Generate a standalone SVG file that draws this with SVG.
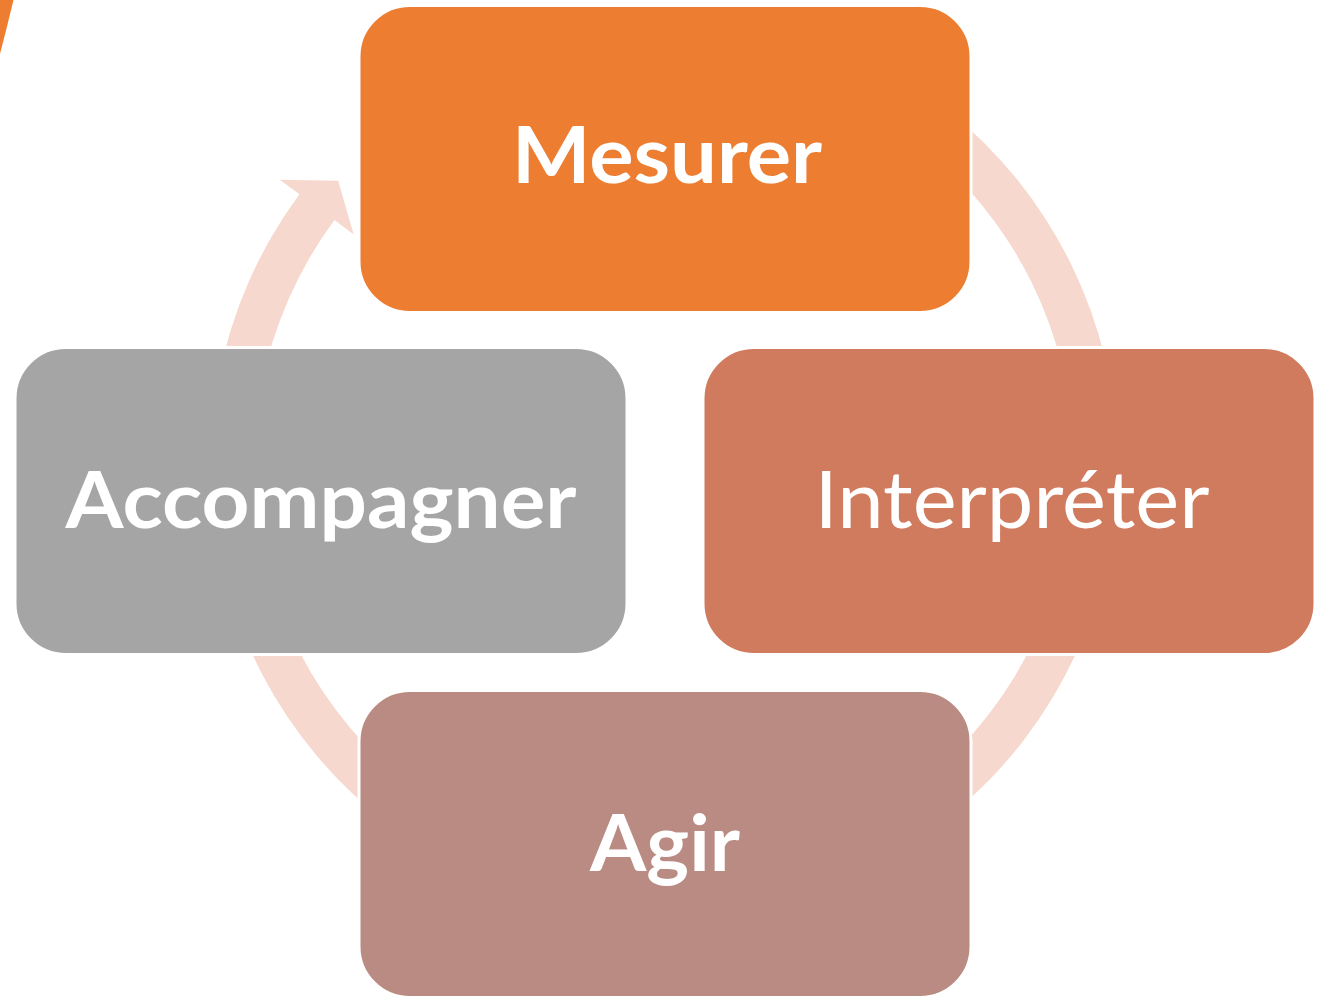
<svg xmlns="http://www.w3.org/2000/svg" width="1329" height="997" viewBox="0 0 1329 997">
<style>
.box{stroke:#FFFFFF;stroke-width:3}
.lbl{font-family:Lato,"Open Sans","Liberation Sans",sans-serif;font-size:79px;fill:#FFFFFF;text-anchor:middle}
.b{font-weight:700}
.r{font-weight:400}
</style>
<rect width="1329" height="997" fill="#FFFFFF"/>
<path d="M0 0 L13.5 0 Q7 27 0 54 Z" fill="#ED7D31"/>
<g id="connectors">
<path d="M664 10.5 A453.5 453.5 0 1 1 299.45 194.25 L279.75 179.68 L338.15 180.75 L353.7 234.4 L334.42 220.12 A410 410 0 1 0 664 54 Z" fill="#F7D8CE"/>
</g>
<g id="mesurer">
<rect class="box" x="359" y="5.5" width="612" height="307" rx="51" fill="#ED7D31"/>
<text class="lbl b" x="667" y="183" textLength="310" lengthAdjust="spacingAndGlyphs">Mesurer</text>
</g>
<g id="interpreter">
<rect class="box" x="703" y="347.5" width="612" height="307" rx="51" fill="#D17B5E"/>
<text class="lbl r" x="1012" y="528" textLength="395" lengthAdjust="spacingAndGlyphs">Interpréter</text>
</g>
<g id="agir">
<rect class="box" x="359" y="690.5" width="612" height="307" rx="51" fill="#B98B82"/>
<text class="lbl b" x="665" y="871" textLength="150" lengthAdjust="spacingAndGlyphs">Agir</text>
</g>
<g id="accompagner">
<rect class="box" x="15" y="347.5" width="612" height="307" rx="51" fill="#A5A5A5"/>
<text class="lbl b" x="321" y="528" textLength="511" lengthAdjust="spacingAndGlyphs">Accompagner</text>
</g>
</svg>
